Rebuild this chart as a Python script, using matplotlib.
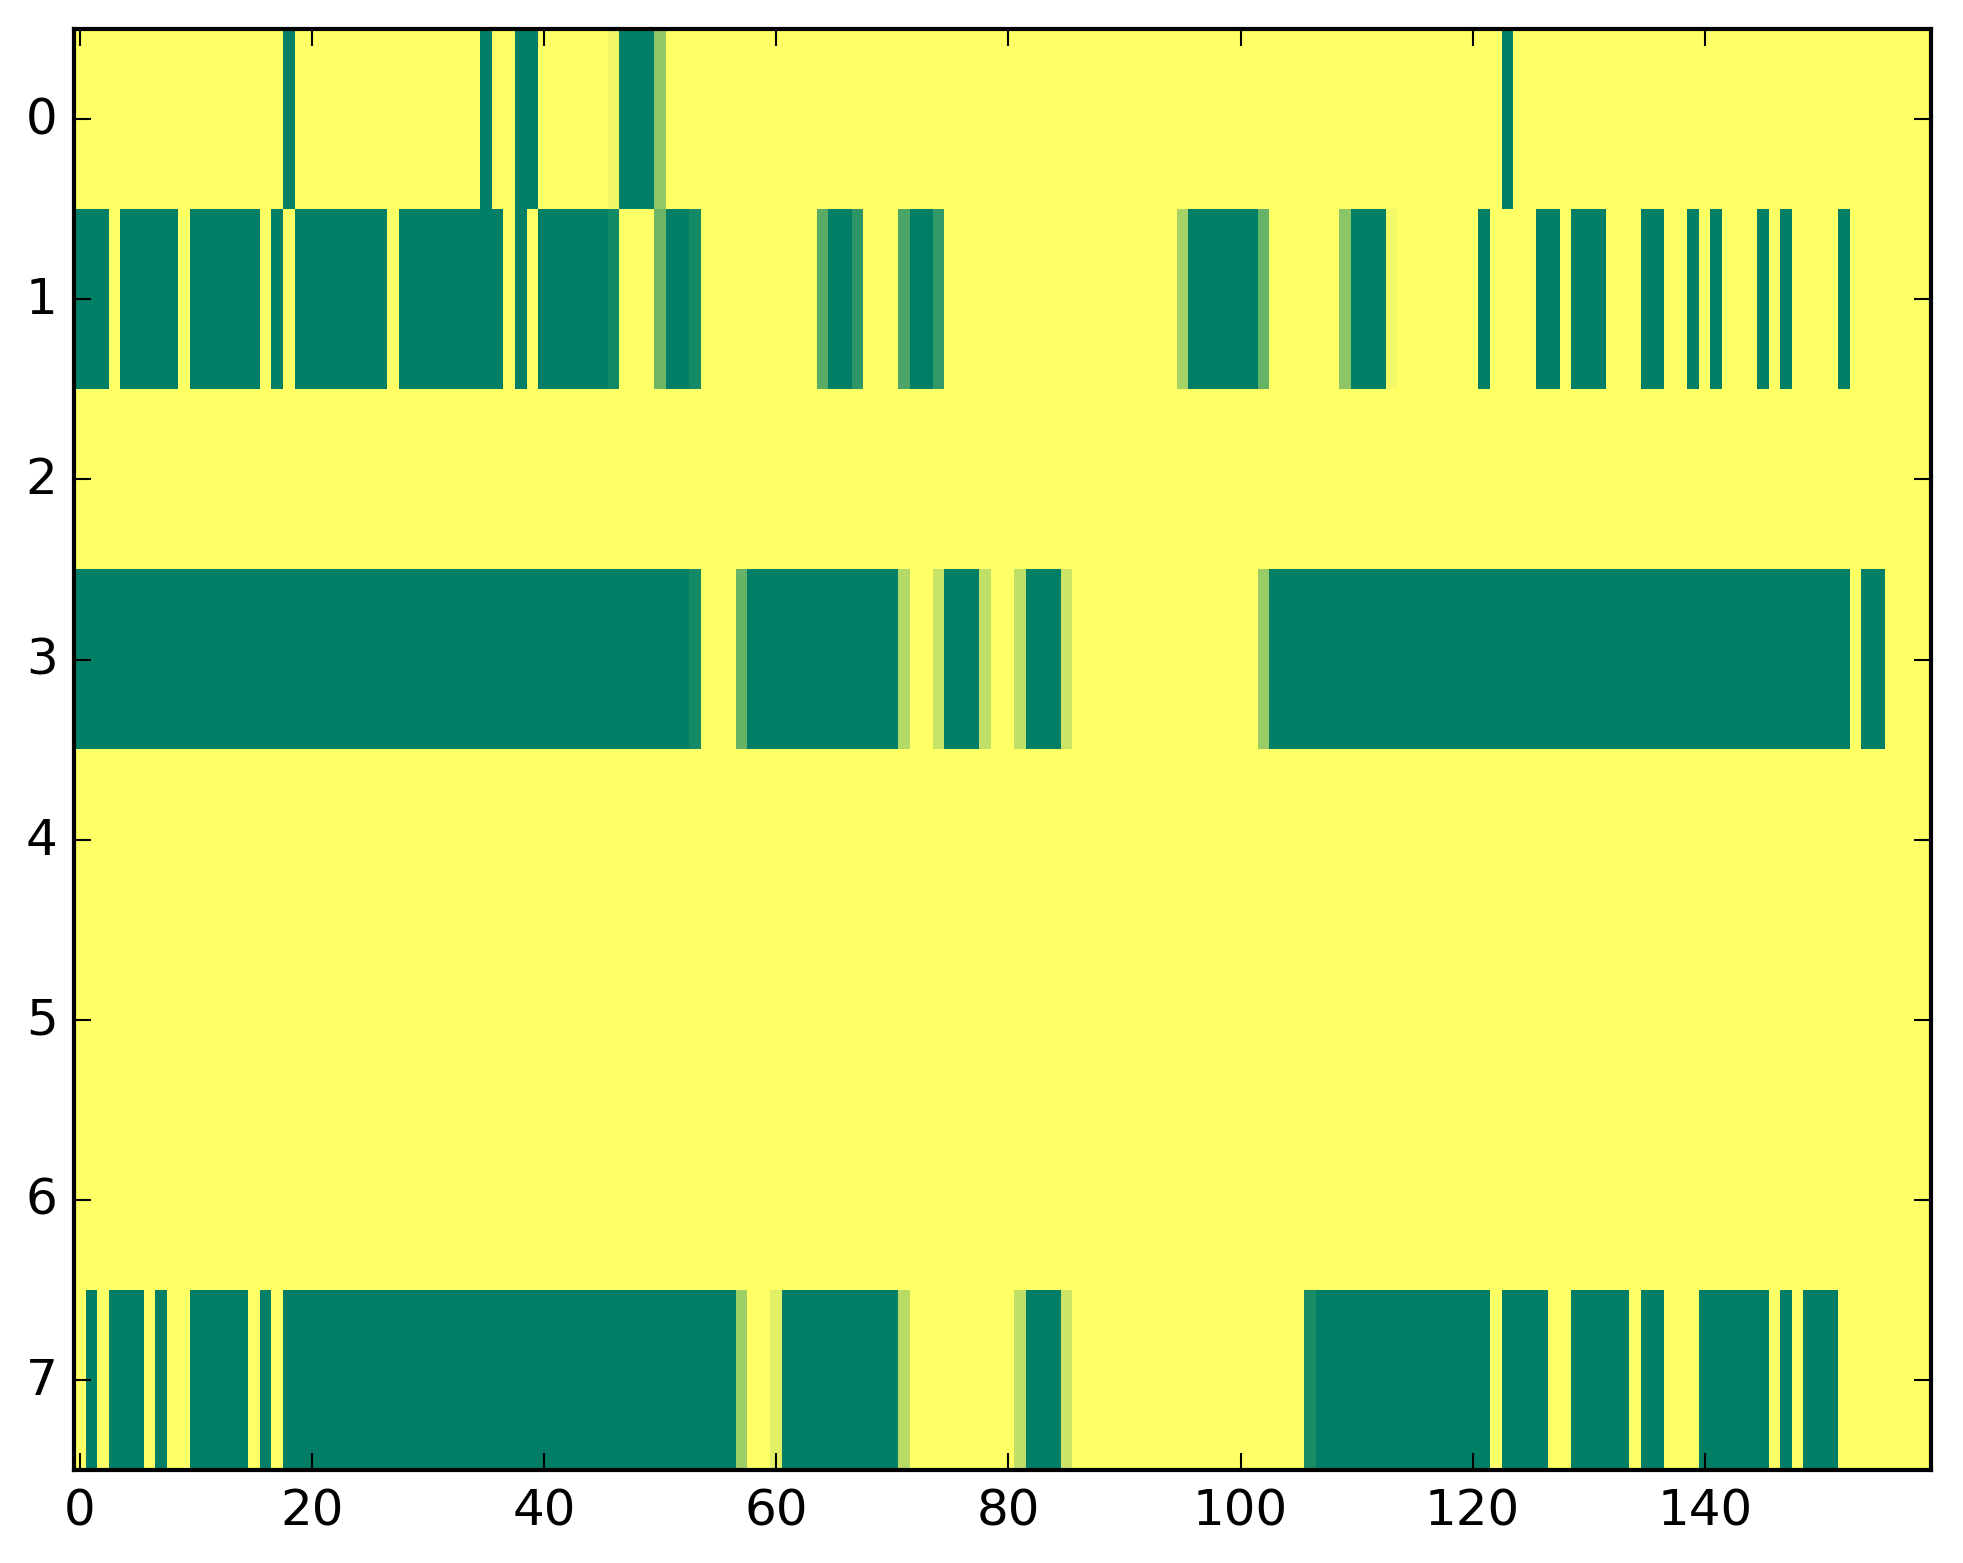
import numpy as np
import matplotlib
matplotlib.use("Agg")
import matplotlib.pyplot as plt

n_rows = 8
n_cols = 160

# columns (inclusive ranges) that sit at the low end of the scale, per row
row0_low = [(18, 18), (35, 35), (38, 39), (47, 49), (123, 123)]
row1_low = [(0, 2), (4, 8), (10, 15), (17, 17), (19, 26), (28, 36), (38, 38),
            (40, 45), (51, 52), (65, 66), (72, 73), (96, 101), (110, 112),
            (121, 121), (126, 127), (129, 131), (135, 136), (139, 139),
            (141, 141), (145, 145), (147, 147), (152, 152)]
row3_low = [(0, 52), (58, 70), (75, 77), (82, 84), (103, 152), (154, 155)]
row7_low = [(1, 1), (3, 5), (7, 7), (10, 14), (16, 16), (18, 56), (61, 70),
            (82, 84), (107, 121), (123, 126), (129, 133), (135, 136),
            (140, 145), (147, 147), (149, 151)]

# in-between cells
row0_mid = {46: 0.95, 50: 0.57}
row1_mid = {46: 0.07, 50: 0.43, 53: 0.08, 64: 0.35, 67: 0.18, 71: 0.30,
            74: 0.20, 95: 0.65, 102: 0.40, 109: 0.55, 113: 0.95}
row3_mid = {53: 0.08, 57: 0.40, 71: 0.70, 74: 0.78, 78: 0.75, 81: 0.75,
            85: 0.80, 102: 0.60}
row7_mid = {57: 0.62, 60: 0.88, 71: 0.72, 81: 0.75, 85: 0.80, 106: 0.10}

rows = {0: (row0_low, row0_mid), 1: (row1_low, row1_mid),
        3: (row3_low, row3_mid), 7: (row7_low, row7_mid)}

data = np.ones((n_rows, n_cols))
for r, (low, mid) in rows.items():
    for a, b in low:
        data[r, a:b + 1] = 0.0
    for c, v in mid.items():
        data[r, c] = v

plt.style.use("classic")
fig = plt.figure(figsize=(1963 / 300, 1564 / 300), dpi=300)
ax = fig.add_axes([0.0378, 0.0595, 0.9459, 0.9212])
ax.imshow(data, cmap="summer", aspect="auto", interpolation="nearest",
          vmin=0, vmax=1)
ax.set_xticks(range(0, 160, 20))
ax.set_yticks(range(n_rows))
ax.tick_params(labelsize=12)

fig.savefig("out.png", dpi=300)
